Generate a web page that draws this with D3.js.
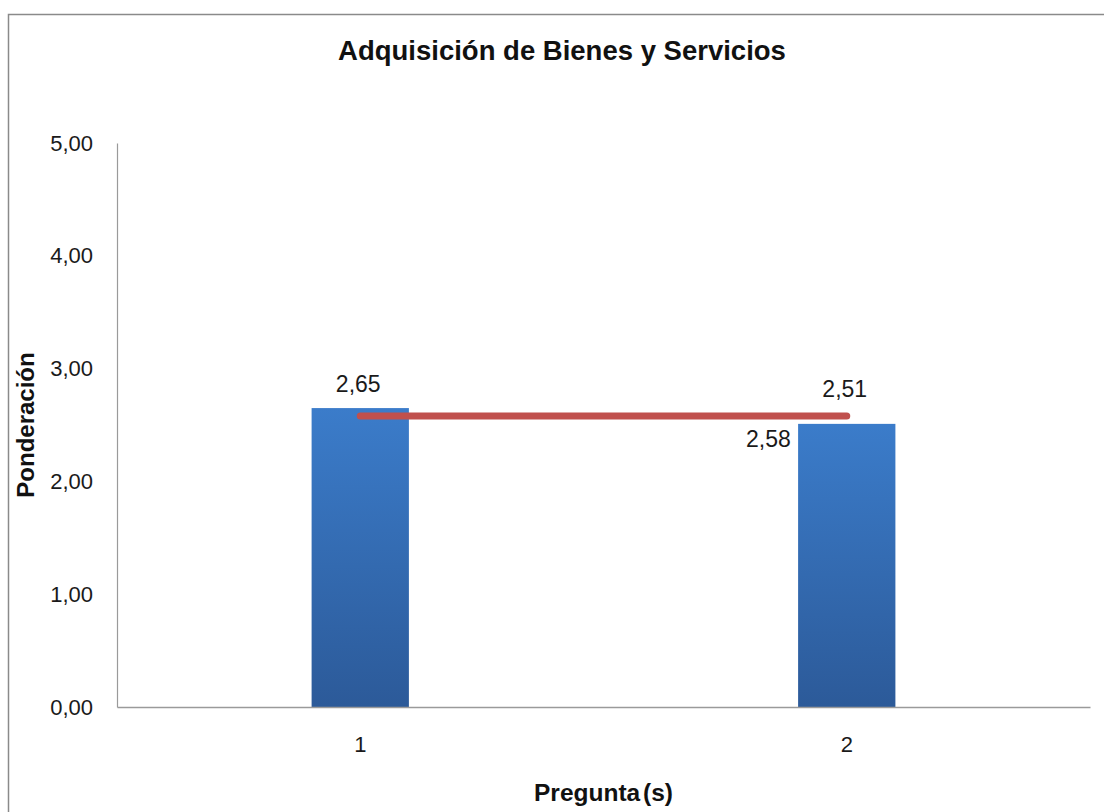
<!DOCTYPE html>
<html>
<head>
<meta charset="utf-8">
<script src="https://cdn.jsdelivr.net/npm/d3@7"></script>
<style>
  html, body { margin: 0; padding: 0; background: #fff; }
  svg { display: block; font-family: "Liberation Sans", Arial, sans-serif; }
</style>
</head>
<body>
<svg id="chart" width="1104" height="812"></svg>
<script>
// Chart data
const categories = ["1", "2"];
const values = [2.65, 2.51];
const average = [2.58, 2.58];
const yTicks = [0, 1, 2, 3, 4, 5];
const title = "Adquisición de Bienes y Servicios";
const xTitle = "Pregunta (s)";
const yTitle = "Ponderación";

const svg = d3.select("#chart");
const W = 1104, H = 812;
const plot = { left: 117, right: 1090, top: 143, bottom: 707 };

const fmt = v => d3.format(".2f")(v).replace(".", ",");

// Outer frame
svg.append("rect")
  .attr("x", 8.5).attr("y", 14.5)
  .attr("width", W + 10).attr("height", H + 10)
  .attr("fill", "#fff").attr("stroke", "#8a8a8a").attr("stroke-width", 1.5);

const x = d3.scaleBand().domain(categories).range([plot.left, plot.right]);
const y = d3.scaleLinear().domain([0, 5]).range([plot.bottom, plot.top]);
const barW = x.bandwidth() * 0.2;

// Bar gradient
const defs = svg.append("defs");
const grad = defs.append("linearGradient").attr("id", "barGrad")
  .attr("x1", 0).attr("y1", 0).attr("x2", 0).attr("y2", 1);
grad.append("stop").attr("offset", "0%").attr("stop-color", "#3b7cca");
grad.append("stop").attr("offset", "100%").attr("stop-color", "#2c5a99");

// Y axis
const yAxis = svg.append("g")
  .attr("transform", `translate(${plot.left},0)`)
  .call(d3.axisLeft(y).tickValues(yTicks).tickFormat(fmt).tickSize(0).tickPadding(24));
yAxis.select(".domain").attr("stroke", "#9a9a9a").attr("stroke-width", 1.2);
yAxis.selectAll("text")
  .attr("font-size", 22).attr("fill", "#1a1a1a")
  .attr("font-family", "Liberation Sans, Arial, sans-serif");

// Bars
svg.append("g").selectAll("rect")
  .data(categories.map((c, i) => ({ c, v: values[i] })))
  .join("rect")
  .attr("x", d => x(d.c) + x.bandwidth() / 2 - barW / 2)
  .attr("y", d => y(d.v))
  .attr("width", barW)
  .attr("height", d => y(0) - y(d.v))
  .attr("fill", "url(#barGrad)");

// X axis
const xAxis = svg.append("g")
  .attr("transform", `translate(0,${plot.bottom})`)
  .call(d3.axisBottom(x).tickSize(0).tickPadding(29));
xAxis.select(".domain").attr("stroke", "#9a9a9a").attr("stroke-width", 1.5);
xAxis.selectAll("text")
  .attr("font-size", 22).attr("fill", "#1a1a1a")
  .attr("font-family", "Liberation Sans, Arial, sans-serif");

// Average line
const cx = c => x(c) + x.bandwidth() / 2;
svg.append("path")
  .datum(categories.map((c, i) => [cx(c), y(average[i])]))
  .attr("d", d3.line())
  .attr("fill", "none")
  .attr("stroke", "#c0504d")
  .attr("stroke-width", 7)
  .attr("stroke-linecap", "round");

// Bar value labels, kept clear of the average line
svg.append("g").selectAll("text")
  .data(categories.map((c, i) => ({ c, v: values[i], a: average[i] })))
  .join("text")
  .attr("x", d => cx(d.c) - 2)
  .attr("y", d => Math.min(y(d.v) - 16, y(d.a) - 19))
  .attr("text-anchor", "middle")
  .attr("font-size", 23).attr("fill", "#1a1a1a")
  .text(d => fmt(d.v));

// Average label at the last point
const lastIdx = categories.length - 1;
svg.append("text")
  .attr("x", cx(categories[lastIdx]) - 56)
  .attr("y", y(average[lastIdx]) + 31)
  .attr("text-anchor", "end")
  .attr("font-size", 23).attr("fill", "#1a1a1a")
  .text(fmt(average[lastIdx]));

// Titles
svg.append("text")
  .attr("x", 562).attr("y", 60)
  .attr("text-anchor", "middle")
  .attr("font-size", 27.5).attr("font-weight", "bold").attr("fill", "#111")
  .text(title);

svg.append("text")
  .attr("x", (plot.left + plot.right) / 2).attr("y", 801)
  .attr("text-anchor", "middle")
  .attr("word-spacing", -4)
  .attr("font-size", 24.5).attr("font-weight", "bold").attr("fill", "#111")
  .text(xTitle);

svg.append("text")
  .attr("transform", `translate(34,${(plot.top + plot.bottom) / 2}) rotate(-90)`)
  .attr("text-anchor", "middle")
  .attr("font-size", 24).attr("font-weight", "bold").attr("fill", "#111")
  .text(yTitle);
</script>
</body>
</html>
